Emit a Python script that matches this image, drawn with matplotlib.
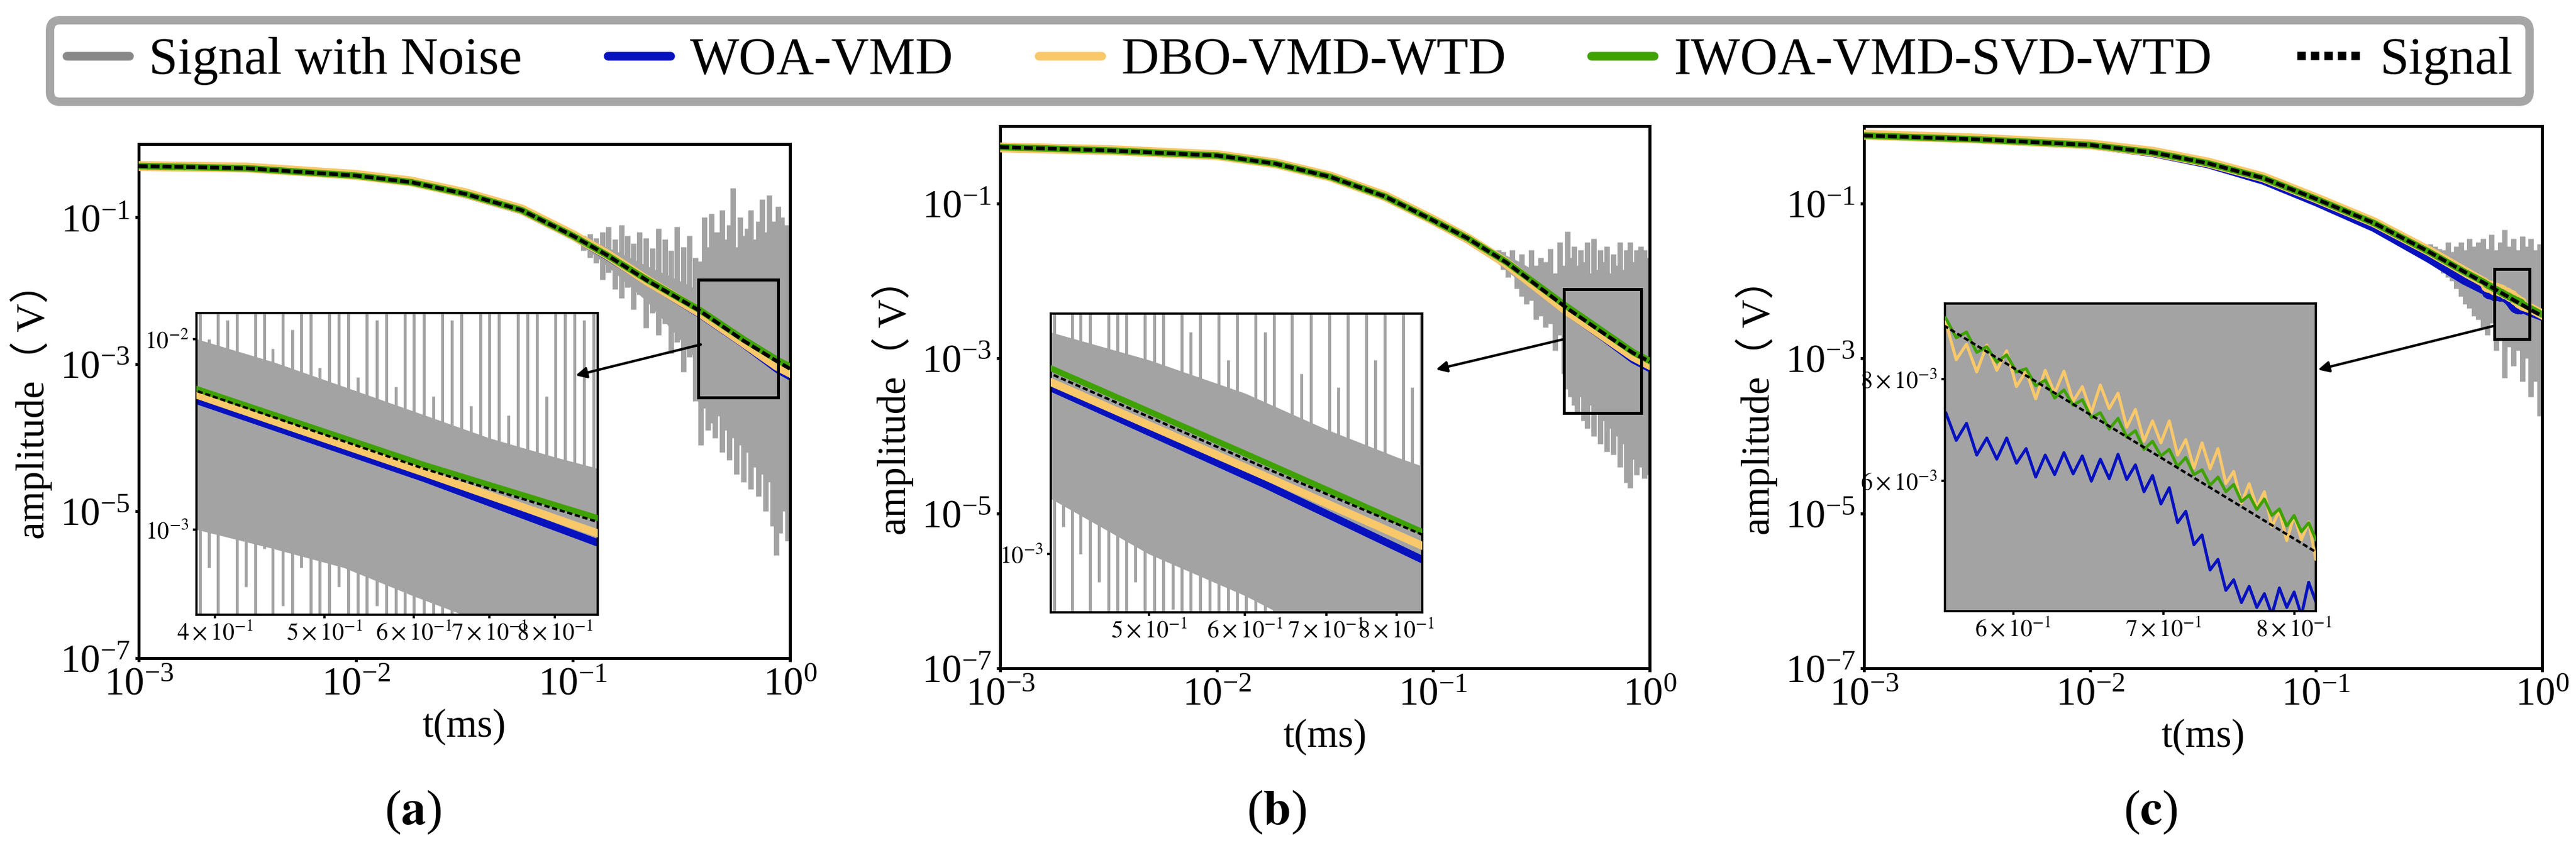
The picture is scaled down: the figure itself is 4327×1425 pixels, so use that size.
import numpy as np
import matplotlib
matplotlib.use("Agg")
import matplotlib.pyplot as plt
from matplotlib.lines import Line2D
from matplotlib.patches import Rectangle
from matplotlib.ticker import FixedLocator, NullLocator

plt.rcParams['font.family'] = ['Liberation Serif', 'Noto Sans CJK SC']
plt.rcParams['mathtext.fontset'] = 'stix'

# colours
GRAY = '#a3a3a3'
GRAY_LEG = '#888888'
BLUE = '#0712be'
ORANGE = '#f8c86a'
GREEN = '#3fa202'

# ---------------- data (amplitudes stored as log10 V) ----------------
# panel (a)
t_a = [0.001, 0.00313, 0.01, 0.018, 0.032, 0.058, 0.1, 0.143, 0.22, 0.384, 0.612, 0.873, 1.0]
sig_a = [-0.30, -0.33, -0.43, -0.52, -0.68, -0.90, -1.25, -1.51, -1.86, -2.27, -2.68, -2.96, -3.06]
woa_a = [-0.29, -0.33, -0.43, -0.52, -0.69, -0.91, -1.26, -1.53, -1.88, -2.32, -2.73, -3.07, -3.17]
dbo_a = [-0.30, -0.32, -0.42, -0.51, -0.67, -0.89, -1.24, -1.50, -1.86, -2.29, -2.70, -3.02, -3.11]
iwoa_a = [-0.30, -0.33, -0.43, -0.52, -0.68, -0.90, -1.25, -1.51, -1.85, -2.26, -2.66, -2.94, -3.03]

band_t_a = [0.1, 0.13, 0.17, 0.22, 0.28, 0.33, 0.385, 0.45, 0.52, 0.6, 0.7, 0.8, 0.9, 1.0]
band_lo_a = [-1.30, -1.55, -1.85, -2.15, -2.5, -2.75, -3.0, -3.1, -3.2, -3.35, -3.5, -3.7, -3.9, -4.0]
band_hi_a = [-1.21, -1.35, -1.5, -1.66, -1.8, -1.9, -2.0, -2.12, -2.25, -2.38, -2.52, -2.62, -2.7, -2.78]

spk_t_a = [0.105, 0.112, 0.12, 0.128, 0.137, 0.146, 0.156, 0.167, 0.178, 0.19,
           0.203, 0.217, 0.232, 0.248, 0.265, 0.283, 0.302, 0.322, 0.344, 0.367,
           0.388, 0.395, 0.402, 0.41, 0.418, 0.426, 0.434, 0.442, 0.45, 0.459,
           0.468, 0.477, 0.486, 0.495, 0.505, 0.515, 0.525, 0.535, 0.545, 0.556,
           0.567, 0.578, 0.589, 0.6, 0.612, 0.624, 0.636, 0.648, 0.661, 0.674,
           0.687, 0.7, 0.714, 0.728, 0.742, 0.756, 0.771, 0.786, 0.801, 0.817,
           0.833, 0.849, 0.866, 0.883, 0.9, 0.918, 0.936, 0.955, 0.974, 0.99]
spk_lo_a = [-1.33, -1.45, -1.55, -1.62, -1.85, -1.75, -1.98, -2.1, -1.95, -2.25,
            -2.05, -2.5, -2.3, -2.6, -2.45, -2.85, -2.7, -3.1, -2.9, -3.5,
            -4.1, -3.2, -3.6, -3.0, -3.9, -3.3, -3.8, -3.1, -4.0, -3.4,
            -3.7, -3.2, -4.2, -3.5, -3.9, -3.3, -4.3, -3.6, -4.0, -3.4,
            -4.5, -3.5, -4.1, -3.7, -4.6, -3.6, -4.2, -3.8, -4.7, -3.7,
            -4.4, -3.9, -4.8, -3.8, -4.5, -4.0, -5.0, -3.9, -4.6, -4.1,
            -5.2, -4.2, -5.6, -4.5, -5.3, -4.4, -5.0, -4.6, -5.4, -4.8]
spk_hi_a = [-1.22, -1.25, -1.22, -1.28, -1.2, -1.13, -1.3, -1.1, -1.25, -1.35,
            -1.2, -1.28, -1.42, -1.15, -1.3, -1.45, -1.13, -1.4, -1.25, -1.55,
            -1.6, -2.0, -1.0, -1.9, -1.4, -2.1, -0.95, -1.7, -2.05, -1.2,
            -1.95, -1.5, -0.9, -2.15, -1.3, -1.85, -1.1, -2.2, -0.6, -1.9,
            -1.4, -2.25, -1.0, -1.75, -1.25, -2.3, -1.15, -1.9, -0.9, -2.35,
            -1.3, -1.8, -1.05, -2.4, -0.75, -1.6, -1.2, -2.3, -0.7, -1.45,
            -1.05, -1.9, -1.3, -0.85, -1.2, -1.0, -1.4, -1.1, -1.3, -1.6]

# panel (b)
t_b = [0.001, 0.00327, 0.0101, 0.0187, 0.0335, 0.0601, 0.0989, 0.1445, 0.218, 0.415, 0.624, 0.84, 1.0]
sig_b = [-0.27, -0.315, -0.38, -0.485, -0.655, -0.91, -1.21, -1.45, -1.76, -2.35, -2.69, -2.93, -3.04]
woa_b = [-0.26, -0.31, -0.38, -0.485, -0.66, -0.915, -1.22, -1.47, -1.79, -2.40, -2.75, -3.02, -3.13]
dbo_b = [-0.275, -0.31, -0.375, -0.48, -0.65, -0.905, -1.205, -1.45, -1.77, -2.38, -2.72, -2.97, -3.08]
iwoa_b = [-0.27, -0.315, -0.38, -0.485, -0.655, -0.91, -1.21, -1.45, -1.755, -2.33, -2.67, -2.92, -3.03]

band_t_b = [0.2, 0.25, 0.3, 0.35, 0.415, 0.5, 0.6, 0.7, 0.8, 0.9, 1.0]
band_lo_b = [-1.78, -2.0, -2.25, -2.5, -2.8, -3.0, -3.15, -3.3, -3.45, -3.6, -3.7]
band_hi_b = [-1.62, -1.75, -1.88, -2.0, -2.2, -2.3, -2.42, -2.55, -2.65, -2.73, -2.8]

spk_t_b = [0.2, 0.21, 0.221, 0.232, 0.244, 0.257, 0.27, 0.284, 0.299, 0.314,
           0.33, 0.347, 0.365, 0.384, 0.402, 0.418, 0.425, 0.432, 0.439, 0.447,
           0.455, 0.463, 0.471, 0.479, 0.487, 0.496, 0.505, 0.514, 0.523, 0.532,
           0.541, 0.551, 0.561, 0.571, 0.581, 0.591, 0.601, 0.612, 0.623, 0.634,
           0.645, 0.656, 0.668, 0.68, 0.692, 0.704, 0.716, 0.729, 0.742, 0.755,
           0.768, 0.782, 0.796, 0.81, 0.824, 0.838, 0.855, 0.872, 0.89, 0.908,
           0.926, 0.945, 0.964, 0.98]
spk_lo_b = [-1.75, -1.85, -1.95, -1.9, -2.1, -2.2, -2.3, -2.25, -2.5, -2.45,
            -2.6, -2.55, -2.9, -2.7, -3.2, -3.4, -2.9, -3.5, -3.0, -3.6,
            -3.1, -3.7, -3.25, -3.5, -3.1, -3.8, -3.3, -3.9, -3.2, -3.6,
            -3.3, -4.0, -3.4, -3.7, -3.35, -4.1, -3.45, -3.8, -3.5, -4.2,
            -3.45, -3.9, -3.5, -4.24, -3.6, -4.0, -3.55, -4.4, -3.7, -4.1,
            -3.6, -4.6, -3.8, -4.67, -3.7, -4.3, -4.0, -4.5, -3.9, -4.4,
            -4.0, -4.55, -4.2, -4.5]
spk_hi_b = [-1.6, -1.62, -1.7, -1.6, -1.75, -1.65, -1.85, -1.6, -1.8, -1.7,
            -1.75, -1.58, -1.9, -1.5, -1.8, -1.36, -2.25, -1.7, -2.0, -1.55,
            -2.3, -1.8, -2.05, -1.6, -2.35, -1.75, -2.1, -1.5, -2.4, -1.9,
            -2.2, -1.45, -2.45, -1.85, -2.3, -1.6, -2.5, -1.75, -2.2, -1.55,
            -2.55, -1.9, -2.35, -1.65, -2.6, -1.8, -2.4, -1.5, -2.65, -1.85,
            -2.3, -1.6, -2.7, -1.5, -2.4, -1.75, -2.3, -1.6, -1.9, -1.55,
            -2.0, -1.6, -1.8, -1.7]

# panel (c)
t_sig_c = [0.001, 0.00315, 0.01, 0.019, 0.0333, 0.0583, 0.1, 0.18, 0.315, 0.45, 0.56, 0.817, 0.9, 1.0]
sig_c = [-0.12, -0.17, -0.243, -0.34, -0.48, -0.67, -0.94, -1.25, -1.62, -1.876, -2.0325, -2.308, -2.379, -2.45]

t_c = [0.001, 0.00315, 0.01, 0.019, 0.0333, 0.0583, 0.1, 0.18, 0.315, 0.45,
       0.560, 0.566, 0.572, 0.578, 0.584, 0.590, 0.596, 0.602, 0.608, 0.614,
       0.620, 0.626, 0.632, 0.638, 0.644, 0.650, 0.656, 0.662, 0.668, 0.674,
       0.680, 0.686, 0.692, 0.698, 0.704, 0.710, 0.716, 0.722, 0.728, 0.734,
       0.740, 0.746, 0.752, 0.758, 0.764, 0.770, 0.776, 0.782, 0.788, 0.794,
       0.800, 0.806, 0.812, 0.818, 0.9, 1.0]
woa_c = [-0.125, -0.175, -0.25, -0.355, -0.50, -0.71, -0.99, -1.32, -1.72, -2.0,
         -2.138, -2.172, -2.151, -2.190, -2.169, -2.195, -2.169, -2.200, -2.182, -2.217,
         -2.190, -2.214, -2.187, -2.213, -2.191, -2.222, -2.195, -2.219, -2.189, -2.220,
         -2.202, -2.235, -2.215, -2.250, -2.230, -2.273, -2.259, -2.300, -2.288, -2.331,
         -2.318, -2.356, -2.343, -2.371, -2.351, -2.377, -2.360, -2.386, -2.353, -2.377,
         -2.358, -2.387, -2.346, -2.370, -2.42, -2.47]
dbo_c = [-0.11, -0.16, -0.235, -0.33, -0.47, -0.66, -0.93, -1.24, -1.61, -1.87,
         -2.027, -2.073, -2.054, -2.088, -2.055, -2.086, -2.062, -2.106, -2.087, -2.121,
         -2.086, -2.114, -2.087, -2.124, -2.106, -2.138, -2.104, -2.133, -2.114, -2.156,
         -2.134, -2.173, -2.148, -2.175, -2.148, -2.190, -2.171, -2.206, -2.175, -2.207,
         -2.182, -2.225, -2.210, -2.249, -2.225, -2.254, -2.235, -2.278, -2.258, -2.295,
         -2.264, -2.294, -2.272, -2.318, -2.36, -2.43]
iwoa_c = [-0.12, -0.17, -0.243, -0.34, -0.48, -0.67, -0.94, -1.25, -1.62, -1.876,
          -2.022, -2.046, -2.039, -2.064, -2.057, -2.076, -2.067, -2.088, -2.084, -2.105,
          -2.098, -2.120, -2.110, -2.129, -2.122, -2.144, -2.138, -2.158, -2.145, -2.168,
          -2.160, -2.183, -2.173, -2.191, -2.183, -2.204, -2.193, -2.214, -2.208, -2.227,
          -2.217, -2.235, -2.226, -2.247, -2.239, -2.257, -2.244, -2.264, -2.256, -2.277,
          -2.264, -2.284, -2.273, -2.294, -2.36, -2.43]

band_t_c = [0.3, 0.35, 0.4, 0.45, 0.5, 0.55, 0.65, 0.75, 0.85, 1.0]
band_lo_c = [-1.66, -1.8, -1.98, -2.15, -2.3, -2.42, -2.55, -2.65, -2.75, -2.9]
band_hi_c = [-1.56, -1.6, -1.68, -1.75, -1.82, -1.88, -1.92, -1.96, -1.98, -2.02]

spk_t_c = [0.32, 0.335, 0.35, 0.366, 0.383, 0.4, 0.418, 0.437, 0.457, 0.478,
           0.5, 0.523, 0.547, 0.572, 0.598, 0.625, 0.653, 0.683, 0.714, 0.747,
           0.781, 0.817, 0.854, 0.893, 0.934, 0.976]
spk_lo_c = [-1.68, -1.75, -1.8, -1.9, -1.95, -2.0, -2.1, -2.2, -2.3, -2.35,
            -2.45, -2.5, -2.6, -2.7, -2.54, -2.9, -2.75, -3.25, -2.85, -3.1,
            -2.9, -3.3, -3.0, -3.5, -3.3, -3.74]
spk_hi_c = [-1.52, -1.55, -1.58, -1.6, -1.5, -1.62, -1.55, -1.5, -1.6, -1.45,
            -1.55, -1.5, -1.45, -1.58, -1.4, -1.6, -1.5, -1.34, -1.55, -1.45,
            -1.6, -1.42, -1.55, -1.45, -1.6, -1.52]

# zoom windows: inset limits (t0, t1, log A0, log A1), highlighted boxes, arrows
inset_lim = [(0.385, 0.873, -3.447, -1.864),
             (0.415, 0.84, -3.21, -2.133),
             (0.5595, 0.818, -2.3815, -2.004)]
box_lim = [(0.378, 0.881, -3.45, -1.848),
           (0.402, 0.915, -3.70, -2.108),
           (0.616, 0.881, -2.754, -1.846)]
arrow_from = [(0.388, -2.73), (0.397, -2.754), (0.616, -2.577)]
arrow_to = [(0.945, 0.793), (1.037, 0.813), (1.006, 0.785)]

inset_xticks = [[0.4, 0.5, 0.6, 0.7, 0.8], [0.5, 0.6, 0.7, 0.8], [0.6, 0.7, 0.8]]
inset_xlabels = [[r'$4\times10^{-1}$', r'$5\times10^{-1}$', r'$6\times10^{-1}$', r'$7\times10^{-1}$', r'$8\times10^{-1}$'],
                 [r'$5\times10^{-1}$', r'$6\times10^{-1}$', r'$7\times10^{-1}$', r'$8\times10^{-1}$'],
                 [r'$6\times10^{-1}$', r'$7\times10^{-1}$', r'$8\times10^{-1}$']]
inset_yticks = [[1e-3, 1e-2], [1e-3], [6e-3, 8e-3]]
inset_ylabels = [[r'$10^{-3}$', r'$10^{-2}$'], [r'$10^{-3}$'], [r'$6\times10^{-3}$', r'$8\times10^{-3}$']]

panel_tags = ['a', 'b', 'c']
legend_labels = ['Signal with Noise', 'WOA-VMD', 'DBO-VMD-WTD', 'IWOA-VMD-SVD-WTD', 'Signal']

panels = [
    dict(t_sig=t_a, sig=sig_a, t=t_a, woa=woa_a, dbo=dbo_a, iwoa=iwoa_a,
         band=(band_t_a, band_lo_a, band_hi_a), spk=(spk_t_a, spk_lo_a, spk_hi_a)),
    dict(t_sig=t_b, sig=sig_b, t=t_b, woa=woa_b, dbo=dbo_b, iwoa=iwoa_b,
         band=(band_t_b, band_lo_b, band_hi_b), spk=(spk_t_b, spk_lo_b, spk_hi_b)),
    dict(t_sig=t_sig_c, sig=sig_c, t=t_c, woa=woa_c, dbo=dbo_c, iwoa=iwoa_c,
         band=(band_t_c, band_lo_c, band_hi_c), spk=(spk_t_c, spk_lo_c, spk_hi_c)),
]

# ---------------- layout ----------------
main_pos = [(0.05385, 0.22386, 0.25283, 0.60632),
            (0.38826, 0.21193, 0.25214, 0.63930),
            (0.72360, 0.21193, 0.26323, 0.63930)]
ins_pos = [(0.07626, 0.27509, 0.15577, 0.35579),
           (0.40791, 0.27789, 0.14421, 0.35228),
           (0.75503, 0.27930, 0.14398, 0.36281)]
tag_x = [0.1604, 0.4955, 0.8348]

# line widths / dash patterns: main axes and per-panel insets
main_lw = dict(woa=2.8, dbo=4.0, iwoa=2.6, sig=1.5, dash=(2.4, 0.8))
ins_lw = [dict(woa=3.0, dbo=3.2, iwoa=2.4, sig=1.0, dash=(2.1, 1.1)),
          dict(woa=3.0, dbo=3.2, iwoa=2.4, sig=1.0, dash=(2.1, 1.1)),
          dict(woa=1.2, dbo=1.2, iwoa=1.2, sig=1.0, dash=(2.1, 1.1))]


def p(v):
    return 10 ** np.asarray(v, dtype=float)


def draw_series(ax, d, lw, spike_lw):
    bt, blo, bhi = d['band']
    ax.fill_between(bt, p(blo), p(bhi), color=GRAY, lw=0, zorder=1)
    st, slo, shi = d['spk']
    ax.vlines(st, p(slo), p(shi), color=GRAY, lw=spike_lw, zorder=1)
    ax.plot(d['t'], p(d['woa']), color=BLUE, lw=lw['woa'], zorder=2)
    ax.plot(d['t'], p(d['dbo']), color=ORANGE, lw=lw['dbo'], zorder=3)
    ax.plot(d['t'], p(d['iwoa']), color=GREEN, lw=lw['iwoa'], zorder=4)
    ax.plot(d['t_sig'], p(d['sig']), color='black', lw=lw['sig'],
            dashes=lw['dash'], zorder=5)


fig = plt.figure(figsize=(4327 / 300, 1425 / 300), dpi=300)

for i, d in enumerate(panels):
    ax = fig.add_axes(main_pos[i])
    draw_series(ax, d, main_lw, 2.2)
    ax.set_xscale('log')
    ax.set_yscale('log')
    ax.set_xlim(1e-3, 1)
    ax.set_ylim(1e-7, 1)
    ax.xaxis.set_major_locator(FixedLocator([1e-3, 1e-2, 1e-1, 1]))
    ax.yaxis.set_major_locator(FixedLocator([1e-7, 1e-5, 1e-3, 1e-1]))
    ax.xaxis.set_minor_locator(NullLocator())
    ax.yaxis.set_minor_locator(NullLocator())
    ax.tick_params(labelsize=16, length=1.5, width=1.2, pad=2)
    for s in ax.spines.values():
        s.set_linewidth(1.2)
    ax.set_xlabel('t(ms)', fontsize=16, labelpad=2)
    ax.set_ylabel('amplitude（ V）', fontsize=16, labelpad=3)

    # highlighted zoom region
    x0, x1, y0, y1 = box_lim[i]
    ax.add_patch(Rectangle((x0, 10 ** y0), x1 - x0, 10 ** y1 - 10 ** y0,
                           fill=False, ec='black', lw=1.2, zorder=6))

    ins = fig.add_axes(ins_pos[i])
    draw_series(ins, d, ins_lw[i], 1.2)
    ins.set_xscale('log')
    ins.set_yscale('log')
    a0, a1, b0, b1 = inset_lim[i]
    ins.set_xlim(a0, a1)
    ins.set_ylim(10 ** b0, 10 ** b1)
    ins.xaxis.set_major_locator(FixedLocator(inset_xticks[i]))
    ins.xaxis.set_ticklabels(inset_xlabels[i])
    ins.yaxis.set_major_locator(FixedLocator(inset_yticks[i]))
    ins.yaxis.set_ticklabels(inset_ylabels[i])
    ins.xaxis.set_minor_locator(NullLocator())
    ins.yaxis.set_minor_locator(NullLocator())
    ins.tick_params(labelsize=9.5, length=1.5, width=0.9, pad=1.5)
    for s in ins.spines.values():
        s.set_linewidth(0.9)

    fx, fy = arrow_to[i]
    ax_t, ax_a = arrow_from[i]
    ins.annotate('', xy=(fx, fy), xycoords='axes fraction',
                 xytext=(ax_t, 10 ** ax_a), textcoords=ax.transData,
                 arrowprops=dict(arrowstyle='-|>', color='black', lw=1.0,
                                 mutation_scale=9, shrinkA=0, shrinkB=0),
                 annotation_clip=False)

    fig.text(tag_x[i], 0.0421, r'($\mathbf{%s}$)' % panel_tags[i],
             fontsize=20, ha='center', va='center')

handles = [Line2D([], [], color=GRAY_LEG, lw=3.5, solid_capstyle='round'),
           Line2D([], [], color=BLUE, lw=3.5, solid_capstyle='round'),
           Line2D([], [], color=ORANGE, lw=3.5, solid_capstyle='round'),
           Line2D([], [], color=GREEN, lw=3.5, solid_capstyle='round'),
           Line2D([], [], color='black', lw=3.4, dashes=(1.0, 0.6))]
leg = fig.legend(handles, legend_labels, loc='center',
                 bbox_to_anchor=(0.01941, 0.8709, 0.96256, 0.1137),
                 mode='expand', ncol=5, fontsize=21, frameon=True,
                 fancybox=True, borderpad=0.32, handlelength=1.2,
                 handletextpad=0.38, borderaxespad=0)
frame = leg.get_frame()
frame.set_edgecolor('#a6a6a6')
frame.set_linewidth(3.4)
frame.set_alpha(1)

fig.savefig('out.png', dpi=300)
